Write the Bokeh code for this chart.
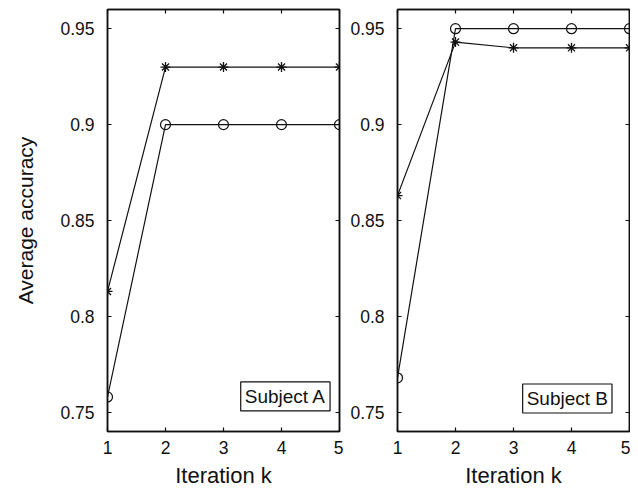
from bokeh.plotting import figure
from bokeh.models import LinearAxis, FixedTicker, Range1d, Label
from bokeh.layouts import row
from bokeh.embed import file_html
from bokeh.resources import INLINE

# ---- data ----
iterations = [1, 2, 3, 4, 5]
subject_a_star = [0.813, 0.930, 0.930, 0.930, 0.930]
subject_a_circle = [0.758, 0.900, 0.900, 0.900, 0.900]
subject_b_star = [0.863, 0.943, 0.940, 0.940, 0.940]
subject_b_circle = [0.768, 0.950, 0.950, 0.950, 0.950]
x_ticks = [1, 2, 3, 4, 5]
y_ticks = [0.75, 0.8, 0.85, 0.9, 0.95]
y_tick_labels = ["0.75", "0.8", "0.85", "0.9", "0.95"]
panel_names = ["Subject A", "Subject B"]

FONT = "Liberation Sans"
INK = "#111111"


def style_axis(ax, ticks, show_labels, overrides=None):
    ax.ticker = FixedTicker(ticks=ticks)
    ax.major_tick_in = 4
    ax.major_tick_out = 0
    ax.minor_tick_line_color = None
    ax.axis_line_width = 1.5
    ax.axis_line_color = INK
    ax.major_tick_line_color = INK
    ax.major_tick_line_width = 1.2
    ax.major_label_text_font = FONT
    ax.major_label_text_color = INK
    if show_labels:
        ax.major_label_text_font_size = "17.5px"
        if overrides:
            ax.major_label_overrides = overrides
    else:
        ax.major_label_text_font_size = "0px"
        ax.major_label_standoff = 0
        ax.major_label_overrides = {t: "" for t in ticks}


def make_panel(star, circle, name, label_x, label_y, show_ylabel, width,
               border_left, border_right):
    p = figure(width=width, height=490, output_backend="svg",
               toolbar_location=None,
               x_range=Range1d(1, 5), y_range=Range1d(0.74, 0.96),
               min_border_left=border_left, min_border_right=border_right,
               min_border_top=9, min_border_bottom=10)
    p.xgrid.grid_line_color = None
    p.ygrid.grid_line_color = None
    p.outline_line_color = INK
    p.outline_line_width = 1.5
    p.background_fill_color = "white"
    p.border_fill_color = "white"

    xb = p.xaxis[0]
    yl = p.yaxis[0]
    ov = {t: l for t, l in zip(y_ticks, y_tick_labels)}
    style_axis(xb, x_ticks, True)
    style_axis(yl, y_ticks, True, ov)
    xb.major_label_standoff = 9
    yl.major_label_standoff = 13

    top = LinearAxis()
    style_axis(top, x_ticks, False)
    p.add_layout(top, "above")
    right = LinearAxis()
    style_axis(right, y_ticks, False)
    p.add_layout(right, "right")

    xb.axis_label = "Iteration k"
    xb.axis_label_text_font = FONT
    xb.axis_label_text_font_style = "normal"
    xb.axis_label_text_font_size = "22px"
    xb.axis_label_text_color = INK
    xb.axis_label_standoff = 6
    if show_ylabel:
        yl.axis_label = "Average accuracy"
        yl.axis_label_text_font = FONT
        yl.axis_label_text_font_style = "normal"
        yl.axis_label_text_font_size = "21px"
        yl.axis_label_text_color = INK
        yl.axis_label_standoff = 20

    p.line(iterations, star, line_color=INK, line_width=1.2)
    p.scatter(iterations, star, marker="asterisk", size=10,
              line_color=INK, line_width=1.3)
    p.line(iterations, circle, line_color=INK, line_width=1.2)
    p.scatter(iterations, circle, marker="circle", size=10,
              line_color=INK, fill_color=None, line_width=1.2)

    lab = Label(x=label_x, y=label_y, text=name, text_align="center",
                text_baseline="middle", text_font=FONT,
                text_font_size="19px", text_color=INK,
                border_line_color=INK, border_line_width=1.2,
                background_fill_color="white", padding=4)
    p.add_layout(lab)
    return p


left = make_panel(subject_a_star, subject_a_circle, panel_names[0],
                  4.067, 0.7583, True, 343, 107, 4)
right_p = make_panel(subject_b_star, subject_b_circle, panel_names[1],
                     3.928, 0.7572, False, 287, 54, 1)

layout = row(left, right_p)
open("out.html", "w").write(file_html(layout, INLINE))
